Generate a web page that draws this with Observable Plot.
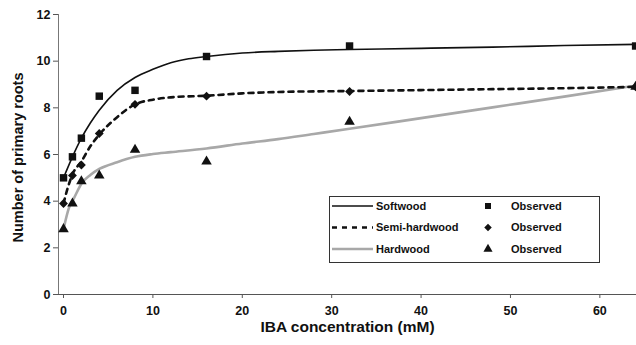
<!DOCTYPE html>
<html>
<head>
<meta charset="utf-8">
<script src="https://cdn.jsdelivr.net/npm/d3@7"></script>
<script src="https://cdn.jsdelivr.net/npm/@observablehq/plot@0.6"></script>
<style>
  html, body { margin: 0; padding: 0; background: #fff; }
  #chart { width: 636px; height: 345px; }
  svg { display: block; }
</style>
</head>
<body>
<div id="chart"></div>
<script>
// ---- Data ----
const doses = [0, 1, 2, 4, 8, 16, 32, 64];
const softObs = [5.0, 5.9, 6.7, 8.5, 8.75, 10.2, 10.65, 10.65];
const semiObs = [3.9, 5.1, 5.55, 6.9, 8.15, 8.5, 8.7, 8.9];
const hardObs = [2.8, 3.9, 4.85, 5.1, 6.2, 5.7, 7.4, 8.9];

const softCurveX = [0, 1, 2, 3, 4, 6, 8, 10, 12, 14, 16, 20, 24, 28, 32, 40, 48, 56, 64];
const softCurveY = [5.0, 5.9, 6.7, 7.35, 7.9, 8.75, 9.3, 9.65, 9.93, 10.1, 10.2, 10.35, 10.42, 10.47, 10.5, 10.55, 10.6, 10.67, 10.72];
const semiCurveX = [0, 0.5, 1, 2, 3, 4, 6, 8, 10, 12, 16, 20, 24, 32, 40, 48, 56, 64];
const semiCurveY = [3.9, 4.6, 5.15, 5.7, 6.35, 6.85, 7.6, 8.15, 8.35, 8.45, 8.52, 8.62, 8.68, 8.72, 8.76, 8.8, 8.84, 8.9];
const hardCurveX = [0, 0.6, 1.2, 2, 3, 4, 6, 8, 10, 12, 16, 20, 24, 28, 32, 40, 48, 56, 64];
const hardCurveY = [2.8, 3.7, 4.15, 4.75, 5.12, 5.38, 5.67, 5.9, 6.02, 6.1, 6.26, 6.47, 6.66, 6.88, 7.1, 7.56, 8.02, 8.48, 8.95];

const seriesNames = ["Softwood", "Semi-hardwood", "Hardwood"];
const observedLabel = "Observed";
const xTicks = [0, 10, 20, 30, 40, 50, 60];
const yTicks = [0, 2, 4, 6, 8, 10, 12];
const xTitle = "IBA concentration (mM)";
const yTitle = "Number of primary roots";
const xDomain = [-0.56, 64.1];
const yDomain = [0, 12];

// ---- Build tables ----
const curve = (xs, ys, s) => xs.map((x, i) => ({x, y: ys[i], s}));
const obs = (ys, s) => doses.map((x, i) => ({x, y: ys[i], s}));
const softC = curve(softCurveX, softCurveY, seriesNames[0]);
const semiC = curve(semiCurveX, semiCurveY, seriesNames[1]);
const hardC = curve(hardCurveX, hardCurveY, seriesNames[2]);
const softO = obs(softObs, seriesNames[0]);
const semiO = obs(semiObs, seriesNames[1]);
const hardO = obs(hardObs, seriesNames[2]);

const FONT = "'Liberation Sans', Arial, sans-serif";

const chart = Plot.plot({
  width: 636,
  height: 345,
  marginLeft: 58,
  marginRight: 0,
  marginTop: 14,
  marginBottom: 51,
  style: {fontFamily: FONT, fontWeight: "bold", fontSize: "12.5px", color: "#111", background: "#fff", overflow: "visible"},
  x: {domain: xDomain, label: null},
  y: {domain: yDomain, label: null},
  marks: [
    Plot.axisY({ticks: yTicks, tickSize: 5, tickPadding: 3, label: null, fontSize: 12.5, fontWeight: "bold", stroke: "#555"}),
    Plot.axisX({ticks: xTicks, tickSize: 4, tickPadding: 8, label: null, fontSize: 12.5, fontWeight: "bold", stroke: "#555"}),
    Plot.ruleY([yDomain[0]], {stroke: "#555", strokeWidth: 1}),
    Plot.ruleX([xDomain[0]], {stroke: "#777", strokeWidth: 1}),
    Plot.line(hardC, {x: "x", y: "y", stroke: "#a8a8a8", strokeWidth: 2.6, curve: "monotone-x"}),
    Plot.line(semiC, {x: "x", y: "y", stroke: "#111", strokeWidth: 2.6, strokeDasharray: "5,5", curve: "monotone-x"}),
    Plot.line(softC, {x: "x", y: "y", stroke: "#111", strokeWidth: 1.6, curve: "monotone-x"}),
    Plot.dot(softO, {x: "x", y: "y", symbol: "square", r: 4.2, fill: "#111", stroke: "none"}),
    Plot.dot(semiO, {x: "x", y: "y", symbol: "diamond2", r: 4.0, fill: "#111", stroke: "none"}),
    Plot.dot(hardO, {x: "x", y: "y", symbol: "triangle", r: 3.9, fill: "#111", stroke: "none"}),
    Plot.text([xTitle], {frameAnchor: "bottom", dy: 33, lineAnchor: "middle", fontSize: 15.5, fontWeight: "bold", fill: "#111"}),
    Plot.text([yTitle], {frameAnchor: "left", dx: -40, dy: 3, rotate: -90, textAnchor: "middle", lineAnchor: "middle", fontSize: 14.5, fontWeight: "bold", fill: "#111"})
  ]
});

document.getElementById("chart").appendChild(chart);

// ---- Legend (box inside plot area) ----
const svg = d3.select(chart);
const lg = svg.append("g").attr("font-family", FONT).attr("font-weight", "bold").attr("font-size", 11)
  .attr("fill", "#111").attr("text-anchor", "start");
lg.append("rect").attr("x", 329.5).attr("y", 196.5).attr("width", 270).attr("height", 66)
  .attr("fill", "#fff").attr("stroke", "#333").attr("stroke-width", 1);
const rowsY = [206, 227.5, 249];
const lineStyles = [
  {stroke: "#111", width: 1.6, dash: null},
  {stroke: "#111", width: 2.4, dash: "5,5"},
  {stroke: "#a8a8a8", width: 2.4, dash: null}
];
const symbols = [d3.symbolSquare, d3.symbolDiamond2, d3.symbolTriangle];
seriesNames.forEach((name, i) => {
  const y = rowsY[i];
  const ls = lineStyles[i];
  const l = lg.append("line").attr("x1", 332).attr("x2", 373).attr("y1", y).attr("y2", y)
    .attr("stroke", ls.stroke).attr("stroke-width", ls.width);
  if (ls.dash) l.attr("stroke-dasharray", ls.dash);
  lg.append("text").attr("x", 376).attr("y", y).attr("dy", "0.35em").attr("text-anchor", "start").text(name);
  lg.append("path").attr("transform", `translate(488,${y})`).attr("d", d3.symbol(symbols[i], 36)()).attr("fill", "#111");
  lg.append("text").attr("x", 511).attr("y", y).attr("dy", "0.35em").attr("text-anchor", "start").text(observedLabel);
});
</script>
</body>
</html>
